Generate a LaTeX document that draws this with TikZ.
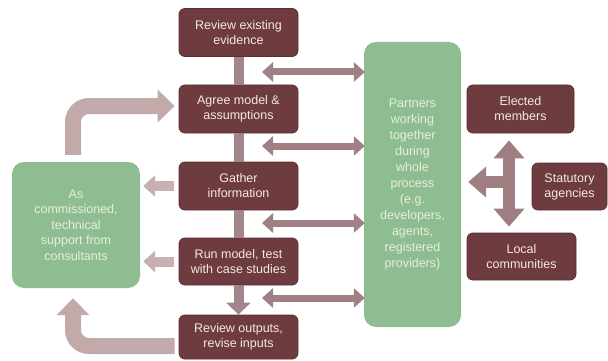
\documentclass[tikz,border=0pt]{standalone}
\usepackage{fontspec}
\setmainfont{Liberation Sans}
\usetikzlibrary{arrows.meta,calc}
\definecolor{boxbrown}{HTML}{6E3B3F}
\definecolor{boxedge}{HTML}{5A2E32}
\definecolor{boxtext}{HTML}{F6E8E6}
\definecolor{boxgreen}{HTML}{8FBD92}
\definecolor{greentext}{HTML}{E6EFDC}
\definecolor{dblcol}{HTML}{A08084}
\definecolor{lightarr}{HTML}{C6B0B0}
\definecolor{bentcol}{HTML}{C2AAAA}
\definecolor{barcol}{HTML}{A3868A}
\definecolor{crosscol}{HTML}{9E7E81}
\tikzset{
  stagebox/.style={rectangle, rounded corners=6pt, fill=boxbrown, draw=boxedge, line width=0.8pt,
    text=boxtext, align=center, font=\fontsize{12.5}{15}\selectfont, inner sep=0pt},
  greenbox/.style={rectangle, rounded corners=12pt, fill=boxgreen, draw=none,
    text=greentext, align=center, inner sep=0pt},
  colbar/.style={draw=barcol, line width=10pt},
  dblarrow/.style={draw=dblcol, line width=7pt,
    {Triangle[length=11pt,width=19pt]}-{Triangle[length=11pt,width=19pt]}},
  leftarr/.style={draw=lightarr, line width=10pt, -{Triangle[length=12pt,width=21pt]}},
  bentarr/.style={draw=bentcol, line width=16pt, rounded corners=16pt, -{Triangle[length=17pt,width=32pt]}},
  crossarr/.style={draw=crosscol, line width=12pt},
}
\begin{document}
\begin{tikzpicture}[x=1pt,y=-1pt]
\useasboundingbox (0,0) rectangle (608,361);
% central column
\node[stagebox, minimum width=119pt, minimum height=48pt] (rev) at (238.5,32.5) {Review existing\\evidence};
\node[stagebox, minimum width=119pt, minimum height=48pt] (agree) at (238.5,109) {Agree model \&\\assumptions};
\node[stagebox, minimum width=119pt, minimum height=48pt] (gather) at (238.5,186) {Gather\\information};
\node[stagebox, minimum width=119pt, minimum height=47pt] (run) at (238.5,261.5) {Run model, test\\with case studies};
\node[stagebox, minimum width=119pt, minimum height=44pt] (out) at (238.5,337) {Review outputs,\\revise inputs};
% green boxes
\node[greenbox, minimum width=128pt, minimum height=126pt, font=\fontsize{12.5}{15.5}\selectfont] (cons) at (76,225)
  {As\\commissioned,\\technical\\support from\\consultants};
\node[greenbox, minimum width=97pt, minimum height=285pt, font=\fontsize{12.5}{16}\selectfont] (part) at (412.5,184.5)
  {Partners\\working\\together\\during\\whole\\process\\(e.g.\\developers,\\agents,\\registered\\providers)};
% right boxes
\node[stagebox, minimum width=107pt, minimum height=48pt] (elect) at (520.5,109) {Elected\\members};
\node[stagebox, minimum width=75pt, minimum height=47pt] (stat) at (569.5,186.5) {Statutory\\agencies};
\node[stagebox, minimum width=109pt, minimum height=47pt] (local) at (521.5,256.5) {Local\\communities};
% column connectors
\begin{scope}[on background layer/.style={}]
\end{scope}
\draw[colbar] (rev.south) -- (agree.north);
\draw[colbar] (agree.south) -- (gather.north);
\draw[colbar] (gather.south) -- (run.north);
\draw[colbar, -{Triangle[length=12pt,width=24pt]}] (run.south) -- (out.north);
% double arrows to partners
\coordinate (d1) at (262,72);
\coordinate (d2) at (262,146);
\coordinate (d3) at (262,223);
\coordinate (d4) at (262,298);
\draw[dblarrow] (d1) -- ([xshift=1pt]d1 -| part.west);
\draw[dblarrow] (d2) -- ([xshift=1pt]d2 -| part.west);
\draw[dblarrow] (d3) -- ([xshift=1pt]d3 -| part.west);
\draw[dblarrow] (d4) -- ([xshift=1pt]d4 -| part.west);
% arrows to consultants
\draw[leftarr, shorten <=5pt, shorten >=3pt] (gather.west) -- (gather.west -| cons.east);
\draw[leftarr, shorten <=5pt, shorten >=3pt] (run.west) -- (run.west -| cons.east);
% bent arrows
\draw[bentarr, shorten <=7pt, shorten >=4pt] ([xshift=-3pt]cons.north) |- ([yshift=3pt]agree.west);
\draw[bentarr, shorten <=4pt, shorten >=10pt] ([yshift=-9pt]out.west) -| ([xshift=-3pt]cons.south);
% cross arrow
\coordinate (cx) at (509,182);
\draw[crossarr, {Triangle[length=18pt,width=30pt]}-{Triangle[length=18pt,width=30pt]}, shorten <=7pt, shorten >=6pt]
  (elect.south -| cx) -- (local.north -| cx);
\draw[crossarr, -{Triangle[length=18pt,width=30pt]}, shorten >=7pt] ([xshift=6pt]cx) -- (cx -| part.east);
\end{tikzpicture}
\end{document}
